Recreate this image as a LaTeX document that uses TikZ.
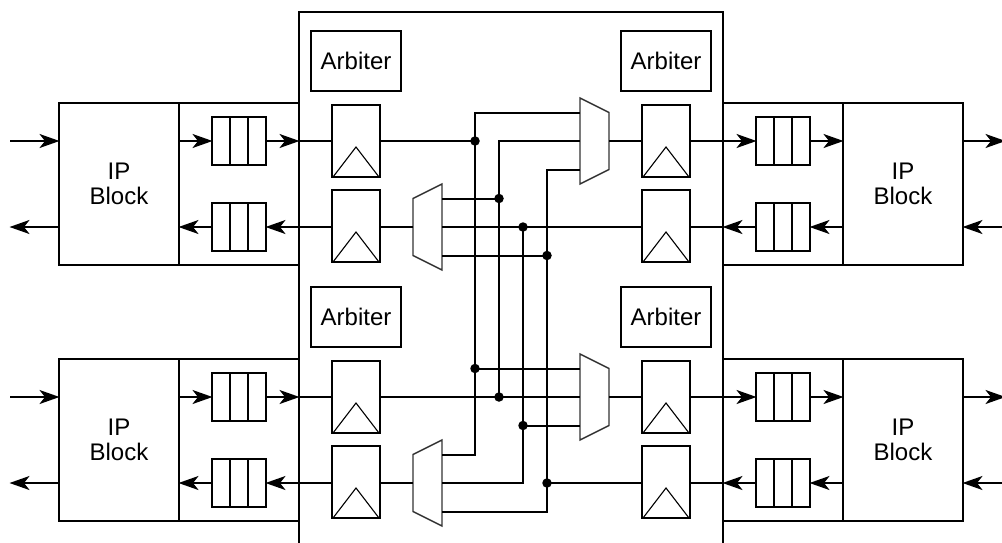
\documentclass[tikz,border=0pt]{standalone}
\usepackage{fontspec}
\setmainfont{Liberation Sans}
\usetikzlibrary{arrows.meta}
\tikzset{
  x=1pt,y=-1pt,
  every path/.style={line width=2pt,line cap=butt,line join=miter},
  boxnode/.style={draw,inner sep=0pt,outer sep=0pt,line width=2pt,align=center,font=\fontsize{24}{25.5}\selectfont},
  ipblock/.style={boxnode,minimum width=120pt,minimum height=162pt},
  wrapbox/.style={boxnode,minimum width=120pt,minimum height=162pt},
  fifobox/.style={boxnode,minimum width=54pt,minimum height=48pt},
  regbox/.style={boxnode,minimum width=48pt,minimum height=72pt},
  arbbox/.style={boxnode,minimum width=90pt,minimum height=60pt},
  arr/.style={-{Stealth[length=20pt,width=14pt,inset=5.5pt]},shorten >=-0.5pt},
  muxline/.style={draw=black!80,line width=1.4pt,fill=white,line join=miter},
  triline/.style={line width=1.1pt},
  junction/.style={circle,fill=black,inner sep=0pt,minimum size=9.5pt,outer sep=0pt},
}
% FIFO: box with two dividers
\newcommand{\fifodraw}[3]{%
  \node[fifobox] (#1) at (#2,#3) {};
  \draw ([xshift=-9pt]#1.north) -- ([xshift=-9pt]#1.south);
  \draw ([xshift=9pt]#1.north) -- ([xshift=9pt]#1.south);
}
% register: box with clock triangle
\newcommand{\regdraw}[3]{%
  \node[regbox] (#1) at (#2,#3) {};
  \draw[triline] ([xshift=1pt]#1.south west) -- ([yshift=30pt]#1.south) -- ([xshift=-1pt]#1.south east);
}
% mux, wide side west (inputs west)
\newcommand{\muxin}[3]{%
  \coordinate (#1-in1) at (580,#3-28.5);
  \coordinate (#1-in2) at (580,#3);
  \coordinate (#1-in3) at (580,#3+28.5);
  \coordinate (#1-out) at (609,#3);
  \draw[muxline] (580,#3-43) -- (609,#3-28.5) -- (609,#3+28.5) -- (580,#3+43) -- cycle;
}
% mux, wide side east
\newcommand{\muxout}[3]{%
  \coordinate (#1-in1) at (442,#3-28.5);
  \coordinate (#1-in2) at (442,#3);
  \coordinate (#1-in3) at (442,#3+28.5);
  \coordinate (#1-out) at (413,#3);
  \draw[muxline] (442,#3-43) -- (413,#3-28.5) -- (413,#3+28.5) -- (442,#3+43) -- cycle;
}
\begin{document}
\begin{tikzpicture}
\useasboundingbox (0,0) rectangle (1002,542);
\fill[white] (0,0) rectangle (1002,542);

% central block
\coordinate (coreBL) at (299,543);
\coordinate (coreTL) at (299,12);
\coordinate (coreTR) at (723,12);
\coordinate (coreBR) at (723,543);
\draw[line join=miter] (coreBL) -- (coreTL) -- (coreTR) -- (coreBR);

% IP blocks and their wrappers
\node[ipblock] (ipA) at (119,184) {IP\\Block};
\node[wrapbox] (wrA) at (239,184) {};
\node[ipblock] (ipB) at (119,440) {IP\\Block};
\node[wrapbox] (wrB) at (239,440) {};
\node[ipblock] (ipC) at (903,184) {IP\\Block};
\node[wrapbox] (wrC) at (783,184) {};
\node[ipblock] (ipD) at (903,440) {IP\\Block};
\node[wrapbox] (wrD) at (783,440) {};

% arbiters
\node[arbbox] (arbA) at (356,61) {Arbiter};
\node[arbbox] (arbB) at (666,61) {Arbiter};
\node[arbbox] (arbC) at (356,317) {Arbiter};
\node[arbbox] (arbD) at (666,317) {Arbiter};

% fifos
\fifodraw{fA1}{239}{141}
\fifodraw{fA2}{239}{227}
\fifodraw{fB1}{239}{397}
\fifodraw{fB2}{239}{483}
\fifodraw{fC1}{783}{141}
\fifodraw{fC2}{783}{227}
\fifodraw{fD1}{783}{397}
\fifodraw{fD2}{783}{483}

% registers
\regdraw{rA1}{356}{141}
\regdraw{rA2}{356}{226}
\regdraw{rB1}{356}{397}
\regdraw{rB2}{356}{482}
\regdraw{rC1}{666}{141}
\regdraw{rC2}{666}{226}
\regdraw{rD1}{666}{397}
\regdraw{rD2}{666}{482}

% free ends
\coordinate (inA) at (10,141);
\coordinate (outA) at (10,227);
\coordinate (inB) at (10,397);
\coordinate (outB) at (10,483);
\coordinate (outC) at (1005,141);
\coordinate (inC) at (1003,227);
\coordinate (outD) at (1005,397);
\coordinate (inD) at (1003,483);

% left side
\foreach \ip/\wr/\fone/\ftwo/\rone/\rtwo/\ein/\eout in {ipA/wrA/fA1/fA2/rA1/rA2/inA/outA, ipB/wrB/fB1/fB2/rB1/rB2/inB/outB}{
  \draw[arr] (\ein) -- (\ein -| \ip.west);
  \draw[arr] (\eout -| \ip.west) -- (\eout);
  \draw[arr] (\fone.west -| \ip.east) -- (\fone.west);
  \draw[arr] (\fone.east) -- (\fone.east -| coreTL);
  \draw (\fone.east -| coreTL) -- (\rone.west);
  \draw[arr] (\ftwo.east -| \rtwo.west) -- (\ftwo.east);
  \draw[arr] (\ftwo.west) -- (\ftwo.west -| \ip.east);
}
% right side
\foreach \ip/\wr/\fone/\ftwo/\rone/\rtwo/\ein/\eout in {ipC/wrC/fC1/fC2/rC1/rC2/inC/outC, ipD/wrD/fD1/fD2/rD1/rD2/inD/outD}{
  \draw[arr] (\rone.east) -- (\fone.west);
  \draw[arr] (\fone.east) -- (\fone.east -| \ip.west);
  \draw[arr] (\eout -| \ip.east) -- (\eout);
  \draw[arr] (\ein) -- (\ein -| \ip.east);
  \draw[arr] (\ftwo.east -| \ip.west) -- (\ftwo.east);
  \draw[arr] (\ftwo.west) -- (\ftwo.west -| coreTR);
  \draw (\ftwo.west -| coreTR) -- (\ftwo.west -| \rtwo.east);
}

% bus columns
\coordinate (c1) at (475,0);
\coordinate (c2) at (499,0);
\coordinate (c3) at (523,0);
\coordinate (c4) at (547,0);

% muxes
\muxin{mC}{0}{141}
\muxin{mD}{0}{397}
\muxout{mA}{0}{227}
\muxout{mB}{0}{483}

% mux to register links
\draw (mC-out) -- (rC1.west);
\draw (mD-out) -- (rD1.west);
\draw (mA-out) -- (mA-out -| rA2.east);
\draw (mB-out) -- (mB-out -| rB2.east);

% top crossbar
\draw (rA1.east) -- (rA1.east -| c1);
\draw (mC-in1) -- (mC-in1 -| c1) -- (mB-in1 -| c1) -- (mB-in1);
\draw (mC-in2) -- (mC-in2 -| c2) -- (mD-in2 -| c2);
\draw (mC-in3) -- (mC-in3 -| c4) -- (mB-in3 -| c4) -- (mB-in3);
\draw (mA-in1) -- (mA-in1 -| c2);
\draw (mA-in2) -- (mA-in2 -| rC2.west);
\draw (mA-in3) -- (mA-in3 -| c4);
\draw (mA-in2 -| c3) -- (mB-in2 -| c3) -- (mB-in2);

% bottom crossbar
\draw (rB1.east) -- (mD-in2);
\draw (mD-in1) -- (mD-in1 -| c1);
\draw (mD-in3) -- (mD-in3 -| c3);
\draw (mB-in2 -| c4) -- (mB-in2 -| rD2.west);

% junctions
\node[junction] (j1) at (rA1.east -| c1) {};
\node[junction] (j2) at (mA-in1 -| c2) {};
\node[junction] (j3) at (mA-in2 -| c3) {};
\node[junction] (j4) at (mA-in3 -| c4) {};
\node[junction] (j5) at (mD-in1 -| c1) {};
\node[junction] (j6) at (mD-in2 -| c2) {};
\node[junction] (j7) at (mD-in3 -| c3) {};
\node[junction] (j8) at (mB-in2 -| c4) {};
\end{tikzpicture}
\end{document}
